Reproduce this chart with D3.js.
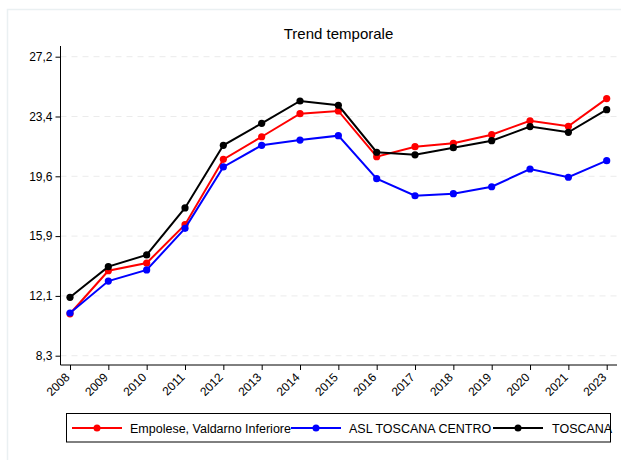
<!DOCTYPE html>
<html><head><meta charset="utf-8">
<script src="https://cdn.jsdelivr.net/npm/d3@7"></script>
<style>
body{margin:0;background:#fff;}
text{font-family:"Liberation Sans",Arial,sans-serif;fill:#000;}
</style></head>
<body><svg id="c" width="621" height="460"></svg>
<script>
const years = ["2008","2009","2010","2011","2012","2013","2014","2015","2016","2017","2018","2019","2020","2021","2023"];
const empolese = [10.95,13.67,14.16,16.58,20.71,22.14,23.6,23.77,20.88,21.51,21.73,22.27,23.15,22.8,24.55];
const aslCentro = [11.0,13.02,13.72,16.35,20.23,21.6,21.93,22.21,19.49,18.41,18.54,18.98,20.1,19.58,20.63];
const toscana = [11.99,13.93,14.67,17.64,21.6,22.99,24.4,24.13,21.16,21.0,21.45,21.89,22.78,22.42,23.85];
const yTicks = [8.3,12.1,15.9,19.6,23.4,27.2];
const yTickPos = [8.3,12.08,15.86,19.64,23.42,27.2];
const seriesNames = ["Empolese, Valdarno Inferiore","ASL TOSCANA CENTRO","TOSCANA"];
const seriesColors = ["#ff0000","#0000ff","#000000"];
const series = [empolese, aslCentro, toscana];
const title = "Trend temporale";

(function(){
const svg = d3.select("#c");
svg.append("path").attr("d","M7.5,460 L7.5,9.5 L621,9.5").attr("fill","none").attr("stroke","#eaf0f2").attr("stroke-width",1.5);

const x = d3.scalePoint().domain(years).range([70,606.7]);
const y = d3.scaleLinear().domain([8.3,27.2]).range([355.7,56.7]);
const pLeft = 60.5, pRight = 617, pBottom = 365, pTop = 46;

svg.append("g").selectAll("line").data(yTickPos).join("line")
  .attr("x1",pLeft).attr("x2",pRight).attr("y1",d=>y(d)).attr("y2",d=>y(d))
  .attr("stroke","#ebebeb").attr("stroke-dasharray","6,5").attr("stroke-width",1);

const yAxis = d3.axisLeft(y).tickValues(yTickPos).tickSize(5).tickPadding(3)
  .tickFormat((d,i)=>String(yTicks[i]).replace(".",","));
const gy = svg.append("g").attr("transform",`translate(${pLeft},0)`).call(yAxis);
gy.select(".domain").attr("d",`M0,${pTop}V${pBottom}`).attr("stroke","#000");
gy.selectAll("text").attr("font-size",12).attr("font-family","Liberation Sans, Arial, sans-serif");

const xAxis = d3.axisBottom(x).tickSize(5).tickPadding(2);
const gx = svg.append("g").attr("transform",`translate(0,${pBottom})`).call(xAxis);
gx.select(".domain").attr("d",`M${pLeft},0H${pRight}`).attr("stroke","#000");
gx.selectAll("text").attr("font-size",12).attr("font-family","Liberation Sans, Arial, sans-serif")
  .attr("text-anchor","end").attr("x",0).attr("y",0).attr("dy","0.35em")
  .attr("transform","translate(-3,10) rotate(-45)");

const line = d3.line().x((d,i)=>x(years[i])).y(d=>y(d));
series.forEach((s,k)=>{
  svg.append("path").datum(s).attr("d",line).attr("fill","none")
    .attr("stroke",seriesColors[k]).attr("stroke-width",2);
  svg.append("g").selectAll("circle").data(s).join("circle")
    .attr("cx",(d,i)=>x(years[i])).attr("cy",d=>y(d)).attr("r",3.6)
    .attr("fill",seriesColors[k]);
});

svg.append("text").attr("x",338.5).attr("y",39).attr("text-anchor","middle")
  .attr("font-size",15).text(title);

svg.append("rect").attr("x",66.5).attr("y",413.5).attr("width",544).attr("height",28.5)
  .attr("fill","none").attr("stroke","#000").attr("stroke-width",1);
const legItems = [{x0:72,t:130},{x0:291,t:349},{x0:493,t:552}];
legItems.forEach((it,k)=>{
  const g = svg.append("g");
  g.append("line").attr("x1",it.x0).attr("x2",it.x0+50).attr("y1",428).attr("y2",428)
    .attr("stroke",seriesColors[k]).attr("stroke-width",2);
  g.append("circle").attr("cx",it.x0+25).attr("cy",428).attr("r",3.5).attr("fill",seriesColors[k]);
  g.append("text").attr("x",it.t).attr("y",432.5).attr("font-size",12.5).text(seriesNames[k]);
});
})();
</script></body></html>
